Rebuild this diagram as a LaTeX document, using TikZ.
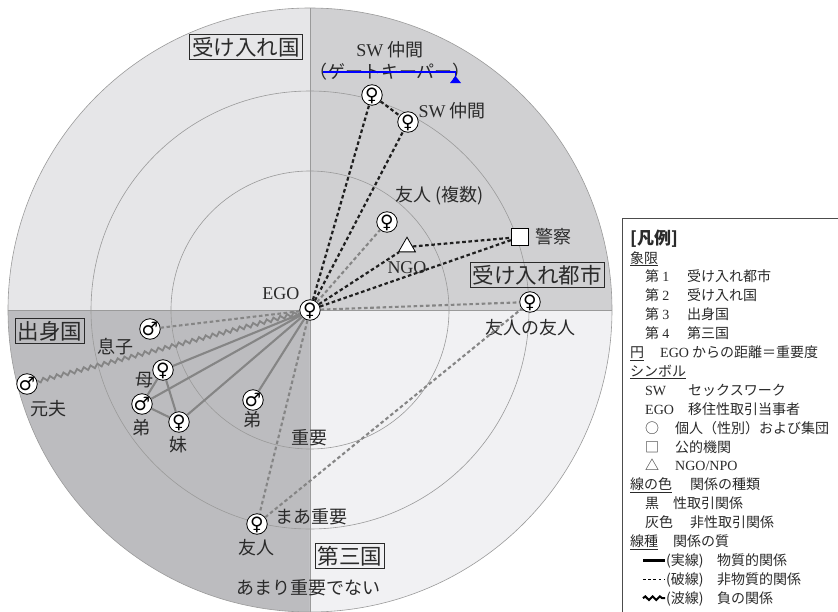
\documentclass[tikz,border=0pt]{standalone}
\usepackage{fontspec}
\setmainfont{Noto Sans CJK JP}
\newfontfamily\latin{Liberation Serif}
\newfontfamily\symb{DejaVu Sans}
\usetikzlibrary{positioning,shapes.geometric,decorations.pathmorphing}
\definecolor{quadI}{HTML}{D0D0D2}
\definecolor{quadII}{HTML}{E6E6E8}
\definecolor{quadIII}{HTML}{BCBCBF}
\definecolor{quadIV}{HTML}{F1F1F3}
\definecolor{ringgrey}{HTML}{9A9A9A}
\definecolor{tiegrey}{HTML}{858585}
\definecolor{inkgrey}{HTML}{2A2A2A}
\newcommand{\la}[1]{{\latin #1}}
\newcommand{\fem}{\raisebox{-0.34em}[0pt][0pt]{\symb ♀}}
\newcommand{\mal}{\raisebox{-0.34em}[0pt][0pt]{\symb ♂}}
\begin{document}
\begin{tikzpicture}[x=1pt,y=1pt,
      person/.style={circle,draw=black,fill=white,line width=0.8pt,minimum size=20.5pt,inner sep=0pt,font=\fontsize{18.5}{18.5}\selectfont},
      office/.style={draw=black,fill=white,line width=0.8pt,minimum size=16.5pt,inner sep=0pt},
      ngobox/.style={regular polygon,regular polygon sides=3,draw=black,fill=white,line width=0.8pt,minimum size=19.5pt,inner sep=0pt},
      tag/.style={text=inkgrey,font=\fontsize{18}{18}\selectfont,inner sep=1pt},
      realm/.style={draw=inkgrey,line width=0.7pt,text=inkgrey,font=\fontsize{21.5}{21.5}\selectfont,inner sep=2.5pt},
      ring/.style={draw=ringgrey,line width=0.6pt},
      sextie/.style={draw=black!88,line width=2.2pt,dash pattern=on 3.6pt off 2.6pt},
      kintie/.style={draw=tiegrey,line width=2.1pt},
      kindot/.style={kintie,dash pattern=on 3.6pt off 2.6pt},
      badtie/.style={kintie,line width=1.8pt,decorate,decoration={snake,amplitude=1.9pt,segment length=7pt}},
      keyrow/.style={anchor=base west,inner sep=0pt,text=inkgrey,font=\fontsize{14}{14}\selectfont}]
    \useasboundingbox (-310,-301) rectangle (528,310);
    \foreach \a/\c in {0/quadI,90/quadII,180/quadIII,270/quadIV}
        \fill[\c] (0,0) -- (\a:302) arc[start angle=\a,delta angle=90,radius=302] -- cycle;
    \foreach \r in {139,219,302}
        \draw[ring] (0,0) circle[radius=\r];
    \draw[ring] (-302,0) -- (302,0) (0,-302) -- (0,302);

    \node[realm] (hostland) at (-64,263) {受け入れ国};
    \node[realm] (hostcity) at (227,35) {受け入れ都市};
    \node[realm] (homeland) at (-260,-21) {出身国};
    \node[realm] (thirdland) at (40,-246) {第三国};
    \node[tag] (near) at (0,-128) {重要};
    \node[tag] (mid) at (2,-207) {まあ重要};
    \node[tag] (far) at (-1,-278) {あまり重要でない};

    \node[person] (ego) at (0,0) {\fem};
    \node[tag,above left=2pt and 2pt of ego] (egotag) {\la{EGO}};
    \node[person] (swA) at (62,215) {\fem};
    \node[tag] (gate) at (80,238) {（ゲートキーパー）};
    \node[tag,above=3pt of gate] (swAtag) {\la{SW} 仲間};
    \node[person] (swB) at (98,188) {\fem};
    \node[tag,above right=-6pt and 2pt of swB] (swBtag) {\la{SW} 仲間};
    \node[person] (pal) at (77,88) {\fem};
    \node[tag,above right=8pt and 0pt of pal] (paltag) {友人 (複数)};
    \node[ngobox] (ngo) at (97,63) {};
    \node[tag,below=8pt of ngo] (ngotag) {\la{NGO}};
    \node[office] (police) at (210,73) {};
    \node[tag,right=6pt of police] (policetag) {警察};
    \node[person] (palpal) at (220,8) {\fem};
    \node[tag,below=6pt of palpal] (palpaltag) {友人の友人};
    \node[person] (son) at (-160,-19) {\mal};
    \node[tag,below left=0pt and 8pt of son] (sontag) {息子};
    \node[person] (exhus) at (-283,-74) {\mal};
    \node[tag,below right=8pt and -5pt of exhus] (exhustag) {元夫};
    \node[person] (mother) at (-147,-60) {\fem};
    \node[tag,below left=-6pt and 1pt of mother] (mothertag) {母};
    \node[person] (broA) at (-168,-94) {\mal};
    \node[tag,below=4pt of broA] (broAtag) {弟};
    \node[person] (sister) at (-131,-112) {\fem};
    \node[tag,below=3pt of sister] (sistertag) {妹};
    \node[person] (broB) at (-57,-90) {\mal};
    \node[tag,below=0pt of broB] (broBtag) {弟};
    \node[person] (palB) at (-53,-214) {\fem};
    \node[tag,below=4pt of palB] (palBtag) {友人};

    \draw[sextie] (ego) -- (swA);
    \draw[sextie] (ego) -- (swB);
    \draw[sextie] (swA) -- (swB);
    \draw[sextie] (ego) -- (ngo);
    \draw[sextie] (ego) -- (police);
    \draw[sextie] (ngo) -- (police);
    \draw[kindot] (ego) -- (pal);
    \draw[kindot] (ego) -- (palpal);
    \draw[kindot] (ego) -- (son);
    \draw[kindot] (ego) -- (palB);
    \draw[kindot] (palB) -- (palpal);
    \draw[kintie] (ego) -- (mother) (ego) -- (broA) (ego) -- (sister) (ego) -- (broB);
    \draw[kintie] (mother) -- (broA) (mother) -- (sister) (broA) -- (sister);
    \draw[badtie] (ego) -- (exhus);

    \draw[blue,line width=1.2pt] (13,238) -- (145.5,238) -- (145.5,231);
    \fill[blue] (140,227) -- (151,227) -- (145.5,234) -- cycle;

    \draw[draw=black!70,fill=white,line width=0.7pt] (312,92) rectangle (545,-320);
    \node[keyrow,font=\bfseries\fontsize{17}{17}\selectfont] (keyhead) at (320,66) {[凡例]};
    \foreach \txt [count=\i from 0] in {
        {\underline{象限}},
        {\hspace*{15pt}\makebox[42pt][l]{第 \la{1}}受け入れ都市},
        {\hspace*{15pt}\makebox[42pt][l]{第 \la{2}}受け入れ国},
        {\hspace*{15pt}\makebox[42pt][l]{第 \la{3}}出身国},
        {\hspace*{15pt}\makebox[42pt][l]{第 \la{4}}第三国},
        {\makebox[30pt][l]{\underline{円}}\la{EGO} からの距離＝重要度},
        {\underline{シンボル}},
        {\hspace*{15pt}\makebox[43pt][l]{\la{SW}}セックスワーク},
        {\hspace*{15pt}\makebox[43pt][l]{\la{EGO}}移住性取引当事者},
        {\hspace*{15pt}\makebox[30pt][l]{○}個人（性別）および集団},
        {\hspace*{15pt}\makebox[30pt][l]{□}公的機関},
        {\hspace*{15pt}\makebox[30pt][l]{△}\la{NGO/NPO}},
        {\makebox[60pt][l]{\underline{線の色}}関係の種類},
        {\hspace*{15pt}\makebox[28pt][l]{黒}性取引関係},
        {\hspace*{15pt}\makebox[45pt][l]{灰色}非性取引関係},
        {\makebox[43pt][l]{\underline{線種}}関係の質},
        {\hspace*{36pt}\makebox[51pt][l]{(実線)}物質的関係},
        {\hspace*{36pt}\makebox[51pt][l]{(破線)}非物質的関係},
        {\hspace*{36pt}\makebox[51pt][l]{(波線)}負の関係}}
        \node[keyrow] (key\i) at (320,47-18.9*\i) {\txt};
    \draw[line width=2.2pt] ([shift={(13,5)}]key16.base west) -- ++(22,0);
    \draw[line width=1.6pt,dash pattern=on 2.6pt off 2.6pt] ([shift={(13,5)}]key17.base west) -- ++(22,0);
    \draw[line width=2pt,decorate,decoration={snake,amplitude=1.8pt,segment length=7.3pt}] ([shift={(13,5)}]key18.base west) -- ++(22,0);
\end{tikzpicture}
\end{document}
